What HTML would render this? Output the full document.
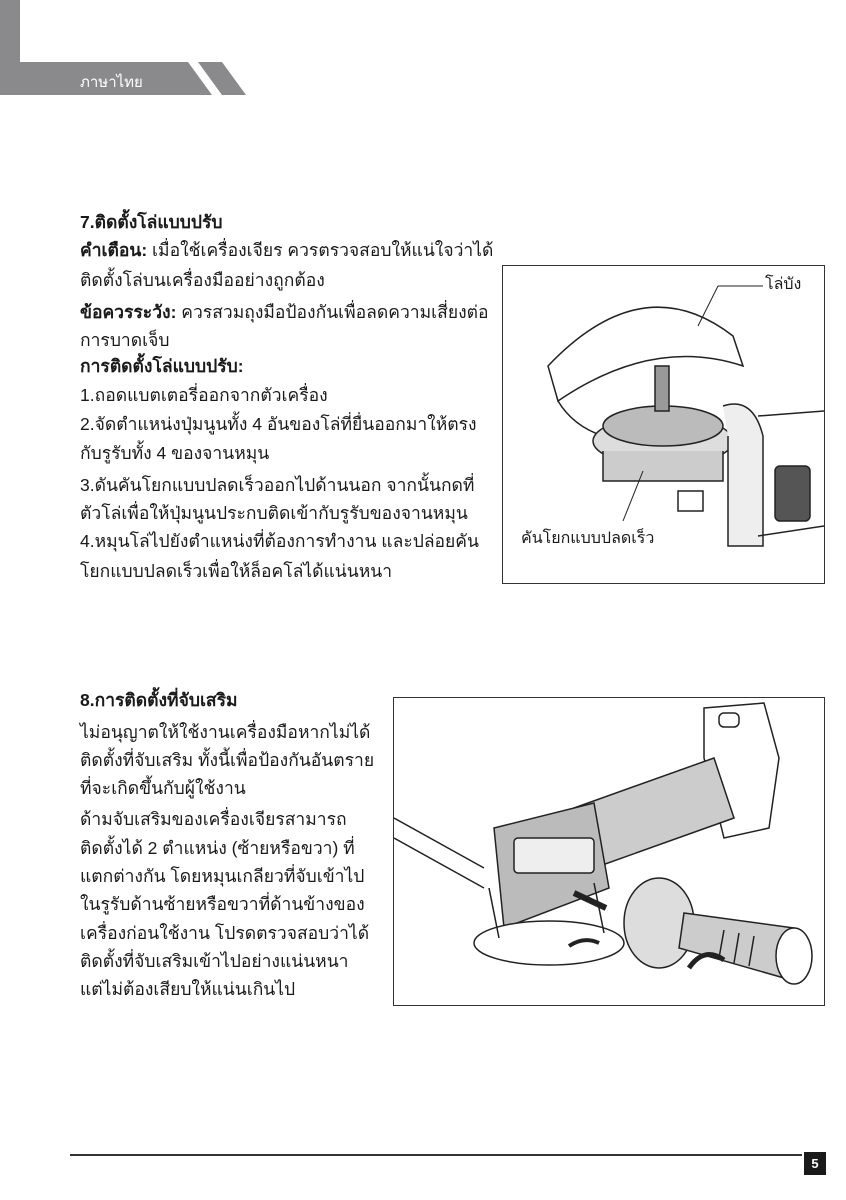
<!DOCTYPE html>
<html><head><meta charset="utf-8">
<style>
html,body{margin:0;padding:0;background:#fff;}
body{width:846px;height:1200px;position:relative;overflow:hidden;font-family:"Liberation Sans","Noto Sans CJK SC",sans-serif;color:#1a1a1a;}
.t{position:absolute;left:80px;font-size:17.5px;line-height:28px;white-space:nowrap;}
.b{font-weight:bold;}
.box{position:absolute;border:1.5px solid #333;background:#fff;}
</style></head><body>
<svg style="position:absolute;left:0;top:0" width="260" height="100">
<polygon points="0,0 20,0 20,62 0,62" fill="#8a8a8d"/>
<polygon points="0,62 188,62 212,95 0,95" fill="#8a8a8d"/>
<polygon points="198,62 222,62 246,95 222,95" fill="#8a8a8d"/>
<text x="80" y="87" fill="#fff" font-size="15" font-family="Liberation Sans, sans-serif">ภาษาไทย</text>
</svg>

<div class="t b" style="top:208px">7.ติดตั้งโล่แบบปรับ</div>
<div class="t" style="top:236px"><b>คำเตือน:</b> เมื่อใช้เครื่องเจียร ควรตรวจสอบให้แน่ใจว่าได้</div>
<div class="t" style="top:266px">ติดตั้งโล่บนเครื่องมืออย่างถูกต้อง</div>
<div class="t" style="top:298px"><b>ข้อควรระวัง:</b> ควรสวมถุงมือป้องกันเพื่อลดความเสี่ยงต่อ</div>
<div class="t" style="top:326px">การบาดเจ็บ</div>
<div class="t b" style="top:352px">การติดตั้งโล่แบบปรับ:</div>
<div class="t" style="top:381px">1.ถอดแบตเตอรี่ออกจากตัวเครื่อง</div>
<div class="t" style="top:410px">2.จัดตำแหน่งปุ่มนูนทั้ง 4 อันของโล่ที่ยื่นออกมาให้ตรง</div>
<div class="t" style="top:439px">กับรูรับทั้ง 4 ของจานหมุน</div>
<div class="t" style="top:471px">3.ดันคันโยกแบบปลดเร็วออกไปด้านนอก จากนั้นกดที่</div>
<div class="t" style="top:499px">ตัวโล่เพื่อให้ปุ่มนูนประกบติดเข้ากับรูรับของจานหมุน</div>
<div class="t" style="top:527px">4.หมุนโล่ไปยังตำแหน่งที่ต้องการทำงาน และปล่อยคัน</div>
<div class="t" style="top:557px">โยกแบบปลดเร็วเพื่อให้ล็อคโล่ได้แน่นหนา</div>

<div class="box" style="left:502px;top:265px;width:321px;height:317px;">
<svg width="321" height="317" style="position:absolute;left:0;top:0" fill="none" stroke="#222" stroke-width="1.5">
<path d="M45,100 Q140,0 230,70 L240,100 Q150,70 55,135 Z" fill="#fff"/>
<path d="M55,135 Q70,160 100,170"/>
<ellipse cx="160" cy="175" rx="70" ry="25" fill="#ddd"/>
<ellipse cx="160" cy="160" rx="60" ry="20" fill="#bbb"/>
<rect x="152" y="100" width="14" height="45" fill="#999"/>
<path d="M100,185 L100,215 L220,215 L220,185" fill="#ccc"/>
<path d="M220,140 Q250,130 260,170 L260,280 L225,280 L225,170" fill="#eee"/>
<path d="M255,150 L321,145 M255,270 L321,260"/>
<rect x="272" y="200" width="35" height="55" rx="5" fill="#555"/>
<path d="M175,225 L200,225 L200,245 L175,245 Z"/>
<path d="M215,20 L260,20 M195,60 L215,20" stroke-width="1"/>
<path d="M120,255 L140,205" stroke-width="1"/>
</svg>
<div style="position:absolute;left:262px;top:6px;font-size:16px;">โล่บัง</div>
<div style="position:absolute;left:18px;top:260px;font-size:16px;background:#fff;">คันโยกแบบปลดเร็ว</div>
</div>

<div class="t b" style="top:686px">8.การติดตั้งที่จับเสริม</div>
<div class="t" style="top:718px">ไม่อนุญาตให้ใช้งานเครื่องมือหากไม่ได้</div>
<div class="t" style="top:746px">ติดตั้งที่จับเสริม ทั้งนี้เพื่อป้องกันอันตราย</div>
<div class="t" style="top:774px">ที่จะเกิดขึ้นกับผู้ใช้งาน</div>
<div class="t" style="top:805px">ด้ามจับเสริมของเครื่องเจียรสามารถ</div>
<div class="t" style="top:834px">ติดตั้งได้ 2 ตำแหน่ง (ซ้ายหรือขวา) ที่</div>
<div class="t" style="top:862px">แตกต่างกัน โดยหมุนเกลียวที่จับเข้าไป</div>
<div class="t" style="top:890px">ในรูรับด้านซ้ายหรือขวาที่ด้านข้างของ</div>
<div class="t" style="top:919px">เครื่องก่อนใช้งาน โปรดตรวจสอบว่าได้</div>
<div class="t" style="top:947px">ติดตั้งที่จับเสริมเข้าไปอย่างแน่นหนา</div>
<div class="t" style="top:975px">แต่ไม่ต้องเสียบให้แน่นเกินไป</div>

<div class="box" style="left:393px;top:697px;width:430px;height:307px;">
<svg width="430" height="307" style="position:absolute;left:0;top:0" fill="none" stroke="#222" stroke-width="1.5">
<path d="M310,10 L370,5 L385,60 L375,130 L330,140 L310,60 Z" fill="#fff"/>
<rect x="325" y="15" width="20" height="14" rx="5"/>
<path d="M180,110 L320,60 L340,120 L200,170 Z" fill="#ccc"/>
<path d="M100,130 L200,105 L215,190 L110,230 Z" fill="#bbb"/>
<rect x="120" y="140" width="80" height="35" rx="4" fill="#eee"/>
<ellipse cx="155" cy="245" rx="75" ry="22" fill="#fff"/>
<path d="M95,190 L105,240 M200,185 L210,235"/>
<path d="M0,120 L90,170 M0,140 L90,190" />
<path d="M180,195 L212,210" stroke-width="6"/>
<ellipse cx="265" cy="225" rx="35" ry="45" fill="#ddd"/>
<path d="M290,215 L400,230 L390,280 L285,250 Z" fill="#ccc"/>
<ellipse cx="400" cy="258" rx="18" ry="28" fill="#fff"/>
<path d="M330,232 L325,260 M345,235 L340,265 M360,238 L355,268"/>
<path d="M295,270 Q310,248 330,262" stroke-width="5"/>
<path d="M175,248 Q190,238 205,245" stroke-width="4"/>
</svg>
</div>

<div style="position:absolute;left:70px;top:1154px;width:732px;height:2px;background:#333;"></div>
<div style="position:absolute;left:804px;top:1152px;width:22px;height:23px;background:#1a1a1a;color:#fff;font-weight:bold;font-size:13px;text-align:center;line-height:23px;">5</div>
</body></html>
